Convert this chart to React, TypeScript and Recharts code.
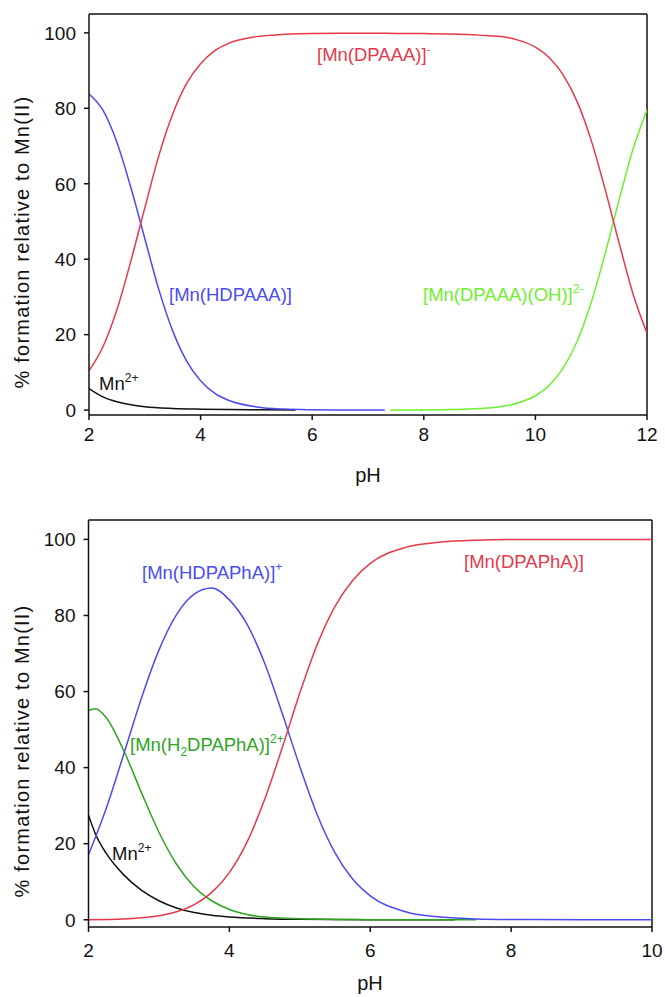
import React from "react";
import { LineChart, Line, XAxis, YAxis, ReferenceLine } from "recharts";

// ---------- Top chart (DPAAA) ----------
const topXTicks = [2, 4, 6, 8, 10, 12];
const yTicks = [0, 20, 40, 60, 80, 100];

const topPH_black = [2, 2.25, 2.5, 2.75, 3, 3.5, 4, 4.5, 5, 5.7];
const topMn = [5.7, 3.5, 2.2, 1.4, 0.9, 0.45, 0.25, 0.15, 0.1, 0.05];

const topPH_blue = [2, 2.25, 2.5, 2.75, 3, 3.25, 3.5, 3.75, 4, 4.25, 4.5, 5, 5.5, 6, 6.5, 7, 7.3];
const topHDPAAA = [83.8, 79.5, 71, 59, 45.5, 32, 21, 13, 7.8, 4.5, 2.6, 0.85, 0.27, 0.09, 0.03, 0.01, 0];

const topPH_red = [2, 2.25, 2.5, 2.75, 3, 3.25, 3.5, 3.75, 4, 4.25, 4.5, 5, 5.5, 6, 6.5, 7, 7.5, 8, 8.5, 9, 9.5, 9.75, 10, 10.25, 10.5, 10.75, 11, 11.25, 11.5, 11.75, 12];
const topDPAAA = [10.4, 16.8, 26.6, 39.5, 53.6, 67.4, 78.5, 86.6, 91.8, 95.2, 97.2, 99, 99.6, 99.85, 99.9, 99.9, 99.85, 99.8, 99.7, 99.4, 98.8, 97.8, 96.2, 93.4, 88.8, 81.7, 71.5, 58.5, 44.3, 30.8, 20.4];

const topPH_green = [7.4, 8, 8.5, 9, 9.5, 9.75, 10, 10.25, 10.5, 10.75, 11, 11.25, 11.5, 11.75, 12];
const topDPAAAOH = [0.01, 0.04, 0.13, 0.4, 1.2, 2.2, 3.8, 6.6, 11.2, 18.3, 28.5, 41.5, 55.7, 69.2, 79.6];

// ---------- Bottom chart (DPAPhA) ----------
const botXTicks = [2, 4, 6, 8, 10];

const botPH_black = [2, 2.1, 2.25, 2.5, 2.75, 3, 3.25, 3.5, 3.75, 4, 4.5, 5, 6, 7, 7.2];
const botMn = [27.5, 22.5, 17.5, 11.8, 7.8, 5, 3.1, 1.9, 1.2, 0.75, 0.3, 0.12, 0.03, 0.01, 0];

const botPH_green = [2, 2.1, 2.25, 2.5, 2.75, 3, 3.25, 3.5, 3.75, 4, 4.25, 4.5, 5, 5.5, 6, 7, 7.5];
const botH2DPAPhA = [55, 55.5, 53.2, 44.5, 33.5, 23, 14.6, 8.7, 5, 2.7, 1.4, 0.7, 0.25, 0.08, 0.03, 0.01, 0];

const botPH_blue = [2, 2.25, 2.5, 2.75, 3, 3.25, 3.5, 3.75, 4, 4.25, 4.5, 4.75, 5, 5.25, 5.5, 5.75, 6, 6.5, 7, 7.5, 8, 9, 10];
const botHDPAPhA = [17.1, 29.2, 43.5, 58.2, 70.9, 80.2, 85.6, 87.2, 84.1, 77.7, 67.5, 54.3, 40.3, 27.5, 17.6, 10.7, 6.3, 2.1, 0.7, 0.2, 0.07, 0.01, 0];

const botPH_red = [2, 2.5, 2.75, 3, 3.25, 3.5, 3.75, 4, 4.25, 4.5, 4.75, 5, 5.25, 5.5, 5.75, 6, 6.5, 7, 7.5, 8, 9, 10];
const botDPAPhA = [0.03, 0.2, 0.5, 1.05, 2.1, 4.0, 7.2, 12.4, 20.4, 31.6, 45.2, 59.6, 72.5, 82.4, 89.2, 93.7, 97.9, 99.3, 99.8, 99.95, 100, 100];

const zip = (xs: number[], ys: number[]) => xs.map((x, i) => ({ x, y: ys[i] }));

const FONT = "'Liberation Sans', Arial, Helvetica, sans-serif";
const RED = "#e5394b";
const BLUE = "#4a4cf2";
const LGREEN = "#6fef2f";
const DGREEN = "#2fa41f";
const BLACK = "#111111";

const tickStyle = { fontSize: 19, fill: "#111", fontFamily: FONT };

function Chart(props: {
  width: number;
  height: number;
  margin: any;
  xDomain: [number, number];
  yDomain: [number, number];
  xTicks: number[];
  yAxisWidth: number;
  tickMarginX: number;
  series: { data: { x: number; y: number }[]; color: string; key: string }[];
}) {
  const { width, height, margin, xDomain, yDomain, xTicks, series, yAxisWidth, tickMarginX } = props;
  return (
    <LineChart width={width} height={height} margin={margin}>
      <XAxis
        dataKey="x"
        type="number"
        domain={xDomain}
        ticks={xTicks}
        allowDataOverflow
        stroke="#111"
        strokeWidth={1.5}
        tickSize={5}
        tickMargin={tickMarginX}
        tick={tickStyle}
        height={30}
      />
      <YAxis
        type="number"
        domain={yDomain}
        ticks={yTicks}
        allowDataOverflow
        stroke="#111"
        strokeWidth={1.5}
        tickSize={5}
        tickMargin={8}
        tick={tickStyle}
        width={yAxisWidth}
      />
      <ReferenceLine y={yDomain[1]} stroke="#111" strokeWidth={1.5} />
      <ReferenceLine x={xDomain[1]} stroke="#111" strokeWidth={1.5} />
      {series.map((s) => (
        <Line
          key={s.key}
          data={s.data}
          dataKey="y"
          type="monotone"
          stroke={s.color}
          strokeWidth={1.5}
          dot={false}
          isAnimationActive={false}
        />
      ))}
    </LineChart>
  );
}

export default function App() {
  const topSeries = [
    { key: "mn", data: zip(topPH_black, topMn), color: BLACK },
    { key: "hd", data: zip(topPH_blue, topHDPAAA), color: BLUE },
    { key: "oh", data: zip(topPH_green, topDPAAAOH), color: LGREEN },
    { key: "d", data: zip(topPH_red, topDPAAA), color: RED },
  ];
  const botSeries = [
    { key: "mn", data: zip(botPH_black, botMn), color: BLACK },
    { key: "h2", data: zip(botPH_green, botH2DPAPhA), color: DGREEN },
    { key: "hd", data: zip(botPH_blue, botHDPAPhA), color: BLUE },
    { key: "d", data: zip(botPH_red, botDPAPhA), color: RED },
  ];
  const lbl = { fontFamily: FONT, fontSize: 18.5 } as const;
  const title = { fontFamily: FONT, fontSize: 20, fill: "#111", letterSpacing: 1.2 } as const;
  return (
    <div style={{ position: "absolute", left: 0, top: 0, width: 665, height: 997, background: "#fff" }}>
      <div style={{ position: "absolute", left: 0, top: 0 }}>
        <Chart
          width={665}
          height={500}
          margin={{ top: 14, right: 18, left: 0, bottom: 55 }}
          xDomain={[2, 12]}
          yDomain={[-1.3, 105]}
          xTicks={topXTicks}
          yAxisWidth={89}
          tickMarginX={8}
          series={topSeries}
        />
      </div>
      <div style={{ position: "absolute", left: 0, top: 500 }}>
        <Chart
          width={665}
          height={497}
          margin={{ top: 20, right: 13, left: 0, bottom: 40 }}
          xDomain={[2, 10]}
          yDomain={[-1.9, 105.1]}
          xTicks={botXTicks}
          yAxisWidth={88.5}
          tickMarginX={12}
          series={botSeries}
        />
      </div>
      <svg
        width={665}
        height={997}
        style={{ position: "absolute", left: 0, top: 0, pointerEvents: "none" }}
      >
        {/* axis titles */}
        <text x={22} y={242} transform="rotate(-90 22 242)" textAnchor="middle" dominantBaseline="central" {...title}>
          % formation relative to Mn(II)
        </text>
        <text x={22} y={751} transform="rotate(-90 22 751)" textAnchor="middle" dominantBaseline="central" {...title}>
          % formation relative to Mn(II)
        </text>
        <text x={368} y={482} textAnchor="middle" fontFamily={FONT} fontSize={20} fill="#111">pH</text>
        <text x={370} y={990} textAnchor="middle" fontFamily={FONT} fontSize={20} fill="#111">pH</text>

        {/* top annotations */}
        <text x={317} y={61} fill={RED} {...lbl}>
          [Mn(DPAAA)]<tspan dy={-8} fontSize={11}>-</tspan>
        </text>
        <text x={169} y={301} fill={BLUE} {...lbl}>[Mn(HDPAAA)]</text>
        <text x={423} y={301} fill={LGREEN} {...lbl}>
          [Mn(DPAAA)(OH)]<tspan dy={-8} fontSize={12}>2-</tspan>
        </text>
        <text x={99} y={390} fill={BLACK} {...lbl}>
          Mn<tspan dy={-8} fontSize={12}>2+</tspan>
        </text>

        {/* bottom annotations */}
        <text x={142} y={579} fill={BLUE} {...lbl}>
          [Mn(HDPAPhA)]<tspan dy={-8} fontSize={12}>+</tspan>
        </text>
        <text x={464} y={568} fill={RED} {...lbl}>[Mn(DPAPhA)]</text>
        <text x={130} y={751} fill={DGREEN} {...lbl}>
          [Mn(H<tspan dy={5} fontSize={12}>2</tspan>
          <tspan dy={-5}>DPAPhA)]</tspan>
          <tspan dy={-8} fontSize={12}>2+</tspan>
        </text>
        <text x={112} y={860} fill={BLACK} {...lbl}>
          Mn<tspan dy={-8} fontSize={12}>2+</tspan>
        </text>
      </svg>
    </div>
  );
}
